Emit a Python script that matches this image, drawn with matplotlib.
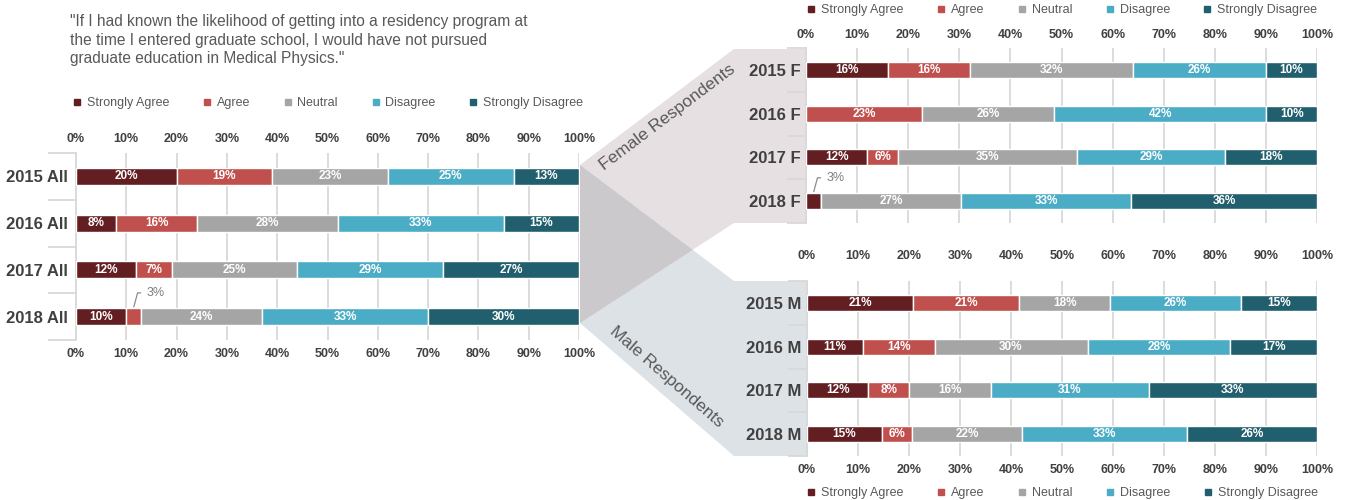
import matplotlib
matplotlib.use('Agg')
import matplotlib.pyplot as plt
from matplotlib.lines import Line2D
from matplotlib.patches import Polygon
import numpy as np

plt.rcParams['font.family'] = ['Liberation Sans', 'DejaVu Sans']

# ---------------- data ----------------
categories = ["Strongly Agree", "Agree", "Neutral", "Disagree", "Strongly Disagree"]
colors = ["#631e22", "#c0504d", "#a5a5a5", "#4bacc6", "#215f6e"]

all_labels = ["2015 All", "2016 All", "2017 All", "2018 All"]
all_values = [[20, 19, 23, 25, 13],
              [8, 16, 28, 33, 15],
              [12, 7, 25, 29, 27],
              [10, 3, 24, 33, 30]]

female_labels = ["2015 F", "2016 F", "2017 F", "2018 F"]
female_values = [[16, 16, 32, 26, 10],
                 [0, 23, 26, 42, 10],
                 [12, 6, 35, 29, 18],
                 [3, 0, 27, 33, 36]]

male_labels = ["2015 M", "2016 M", "2017 M", "2018 M"]
male_values = [[21, 21, 18, 26, 15],
               [11, 14, 30, 28, 17],
               [12, 8, 16, 31, 33],
               [15, 6, 22, 33, 26]]

xticks = list(range(0, 101, 10))
xtick_labels = [f"{t}%" for t in xticks]

title = ('"If I had known the likelihood of getting into a residency program at\n'
         'the time I entered graduate school, I would have not pursued\n'
         'graduate education in Medical Physics."')

# ---------------- layout ----------------
W, H = 1348, 500
fig = plt.figure(figsize=(W / 100, H / 100), dpi=100)

TEXT = '#595959'
DARK = '#404040'
GRID = '#d9d9d9'
TICKFAM = ['Liberation Sans Narrow', 'Liberation Sans', 'DejaVu Sans']


def px_axes(left, top, right, bottom, **kw):
    return fig.add_axes([left / W, 1 - bottom / H, (right - left) / W, (bottom - top) / H], **kw)


# background axes for funnel decoration
bg = fig.add_axes([0, 0, 1, 1], zorder=-1)
bg.set_xlim(0, W)
bg.set_ylim(H, 0)
bg.axis('off')

fem_poly = [(580, 165), (734, 49), (806, 49), (806, 223), (734, 223), (580, 323)]
male_poly = [(580, 165), (734, 281), (807, 281), (807, 456), (734, 456), (580, 323)]
bg.add_patch(Polygon(fem_poly, closed=True, facecolor='#e6e0e2', edgecolor='none'))
bg.add_patch(Polygon(male_poly, closed=True, facecolor='#dde2e7', edgecolor='none'))
# overlap triangle (intersection of female lower edge and male upper edge)
(x0, y0a), (x1, y1a) = fem_poly[5], fem_poly[4]
(x0b, y0b), (x1b, y1b) = male_poly[0], male_poly[1]
t = (y0a - y0b) / ((y1b - y0b) - (y1a - y0a))
ix, iy = x0 + t * (x1 - x0), y0a + t * (y1a - y0a)
bg.add_patch(Polygon([(580, 165), (ix, iy), (580, 323)], closed=True,
                     facecolor='#ccc9cd', edgecolor='none'))

bg.text(667, 117, "Female Respondents", rotation=37, rotation_mode='anchor',
        ha='center', va='center', fontsize=12.5, color=TEXT)
bg.text(667, 377, "Male Respondents", rotation=-41, rotation_mode='anchor',
        ha='center', va='center', fontsize=12.5, color=TEXT)
bg.text(70, 40, title, fontsize=11.2, color=TEXT, ha='left', va='center', linespacing=1.3)


def draw_chart(ax, labels, values, bar_h, sep_len, lab_pad):
    ax.set_facecolor('none')
    n = len(labels)
    y = np.arange(n)
    vals = np.array(values, dtype=float)
    widths = vals / vals.sum(axis=1)[:, None] * 100
    lefts = np.cumsum(widths, axis=1) - widths
    for j, cat in enumerate(categories):
        ax.barh(y, widths[:, j], left=lefts[:, j], height=bar_h, color=colors[j],
                edgecolor='white', linewidth=1, zorder=3)
        for i in range(n):
            v = values[i][j]
            if v == 0:
                continue
            cx = lefts[i, j] + widths[i, j] / 2
            if v >= 5:
                ax.text(cx, i, f"{v}%", ha='center', va='center', color='white',
                        fontsize=8.5, fontweight='bold', family=TICKFAM, zorder=4)
            else:
                ax.annotate(f"{v}%", xy=(cx, i - bar_h / 2 - 0.03), xytext=(9, 10),
                            textcoords='offset points', ha='left', va='center',
                            fontsize=9, color='#7f7f7f', zorder=4,
                            arrowprops=dict(arrowstyle='-', color='#8c8c8c', lw=0.9,
                                            shrinkA=2, shrinkB=0, relpos=(0, 0.5),
                                            connectionstyle='angle,angleA=0,angleB=75,rad=0'))
    ax.set_xlim(0, 100)
    ax.set_ylim(n - 0.5, -0.5)
    ax.set_xticks(xticks)
    ax.set_xticklabels(xtick_labels, fontsize=9, fontweight='bold', color=DARK, family=TICKFAM)
    ax.grid(axis='x', color=GRID, lw=1.3, zorder=0)
    ax.grid(axis='y', visible=False)
    ax.set_axisbelow(True)
    ax.set_yticks([b - 0.5 for b in range(n + 1)])
    ax.set_yticklabels([''] * (n + 1))
    ax.set_yticks(y, minor=True)
    ax.set_yticklabels(labels, minor=True, fontsize=12, fontweight='bold', color=DARK)
    ax.tick_params(axis='y', which='major', length=sep_len, color=GRID, width=1.3, direction='out')
    ax.tick_params(axis='y', which='minor', length=0, pad=lab_pad)
    for s in ['top', 'right', 'bottom']:
        ax.spines[s].set_visible(False)
    ax.spines['left'].set_color(GRID)
    ax.spines['left'].set_linewidth(1.3)


def add_legend(ax, yfrac):
    handles = [Line2D([], [], marker='s', linestyle='none', markersize=5, color=c) for c in colors]
    ax.legend(handles, categories, ncol=5, loc='center', bbox_to_anchor=(0.5, yfrac),
              frameon=False, fontsize=9, handlelength=0.8, handletextpad=0.4,
              columnspacing=2.6, labelcolor=TEXT, borderaxespad=0)


# left chart
axL = px_axes(76, 153, 579, 340)
draw_chart(axL, all_labels, all_values, 0.36, 20, 6)
axL.tick_params(axis='x', labeltop=True, labelbottom=True, top=False, bottom=False,
                length=0, pad=6)
add_legend(axL, 1.267)

# female chart
axF = px_axes(806, 48, 1317, 223)
draw_chart(axF, female_labels, female_values, 0.37, 14, 4)
axF.tick_params(axis='x', labeltop=True, labelbottom=False, top=False, bottom=False,
                length=0, pad=5)
add_legend(axF, 1.217)

# male chart
axM = px_axes(807, 281, 1317, 456)
draw_chart(axM, male_labels, male_values, 0.37, 14, 4)
axM.tick_params(axis='x', labeltop=False, labelbottom=True, top=False, bottom=False,
                length=0, pad=6)
sec = axM.secondary_xaxis('top')
sec.set_xticks(xticks)
sec.set_xticklabels(xtick_labels, fontsize=9, fontweight='bold', color=DARK, family=TICKFAM)
sec.tick_params(length=0, pad=14)
sec.spines['top'].set_visible(False)
add_legend(axM, -0.211)

fig.savefig('out.png', dpi=100)
